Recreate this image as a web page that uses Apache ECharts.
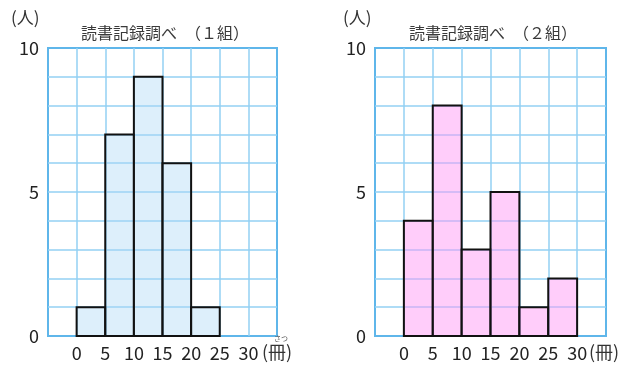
<!DOCTYPE html>
<html><head><meta charset="utf-8">
<script src="https://cdn.jsdelivr.net/npm/echarts@6/dist/echarts.min.js"></script>
<style>html,body{margin:0;padding:0;background:#fff}#c{width:640px;height:369px}</style>
</head><body><div id="c"></div>
<script>
const binStarts = [0, 5, 10, 15, 20, 25];
const binEnds = [5, 10, 15, 20, 25, 30];
const class1 = [1, 7, 9, 6, 1, 0];
const class2 = [4, 8, 3, 5, 1, 2];
const xTicks = [0, 5, 10, 15, 20, 25, 30];
const yTicks = [0, 5, 10];
const titles = ['読書記録調べ　（１組）', '読書記録調べ　（２組）'];
const yUnit = '(人)';
const xUnit = '(冊)';
const ruby = 'さつ';

const FONT = "'Noto Sans CJK JP', 'Noto Sans', sans-serif";
const gridLine = '#93d0f3';
const borderCol = '#5fb6ea';

function mkData(vals){
  return vals.map((v,i)=>[binStarts[i], binEnds[i], v]).filter(d=>d[2]>0);
}
function renderer(fill){
  return function(params, api){
    const p0 = api.coord([api.value(0), api.value(2)]);
    const p1 = api.coord([api.value(1), 0]);
    return {type:'rect', shape:{x:p0[0], y:p0[1], width:p1[0]-p0[0], height:p1[1]-p0[1]},
      style:{fill:fill, stroke:'#111', lineWidth:2}};
  };
}
const grids = [
  {left:48, top:48, width:229, height:288, show:true, borderColor:borderCol, borderWidth:2, backgroundColor:'transparent'},
  {left:375, top:48, width:231, height:288, show:true, borderColor:borderCol, borderWidth:2, backgroundColor:'transparent'}
];
function xAx(i){
  return {gridIndex:i, type:'value', min:-5, max:35, interval:5,
    axisLine:{show:false}, axisTick:{show:false},
    splitLine:{show:true, showMinLine:false, showMaxLine:false, lineStyle:{color:gridLine, width:1.5}},
    axisLabel:{margin:8, fontSize:18, color:'#222', fontFamily:FONT,
      formatter:v=> xTicks.indexOf(v)>=0 ? String(v) : ''}};
}
function yAx(i){
  return {gridIndex:i, type:'value', min:0, max:10, interval:1,
    axisLine:{show:false}, axisTick:{show:false},
    splitLine:{show:true, showMinLine:false, showMaxLine:false, lineStyle:{color:gridLine, width:1.5}},
    axisLabel:{margin:9, fontSize:18, color:'#222', fontFamily:FONT,
      formatter:v=> yTicks.indexOf(v)>=0 ? String(v) : ''}};
}
const chart = echarts.init(document.getElementById('c'));
chart.setOption({
  animation:false,
  grid:grids,
  xAxis:[xAx(0), xAx(1)],
  yAxis:[yAx(0), yAx(1)],
  title:[
    {text:titles[0], left:76, top:20, textStyle:{fontSize:16, fontWeight:'normal', color:'#3a3a3a', fontFamily:FONT}},
    {text:titles[1], left:404, top:20, textStyle:{fontSize:16, fontWeight:'normal', color:'#3a3a3a', fontFamily:FONT}}
  ],
  graphic:[
    {type:'text', left:11, top:9, style:{text:yUnit, fontSize:17, fill:'#333', fontFamily:FONT}},
    {type:'text', left:343, top:9, style:{text:yUnit, fontSize:17, fill:'#333', fontFamily:FONT}},
    {type:'text', left:262, top:343, style:{text:xUnit, fontSize:18, fill:'#333', fontFamily:FONT}},
    {type:'text', left:589, top:343, style:{text:xUnit, fontSize:18, fill:'#333', fontFamily:FONT}},
    {type:'text', left:274, top:335, style:{text:ruby, fontSize:7, fill:'#555', fontFamily:FONT}}
  ],
  series:[
    {type:'custom', xAxisIndex:0, yAxisIndex:0, renderItem:renderer('rgba(170,215,245,0.4)'),
      encode:{x:[0,1], y:2}, data:mkData(class1)},
    {type:'custom', xAxisIndex:1, yAxisIndex:1, renderItem:renderer('rgba(255,150,245,0.48)'),
      encode:{x:[0,1], y:2}, data:mkData(class2)}
  ]
});
</script></body></html>
